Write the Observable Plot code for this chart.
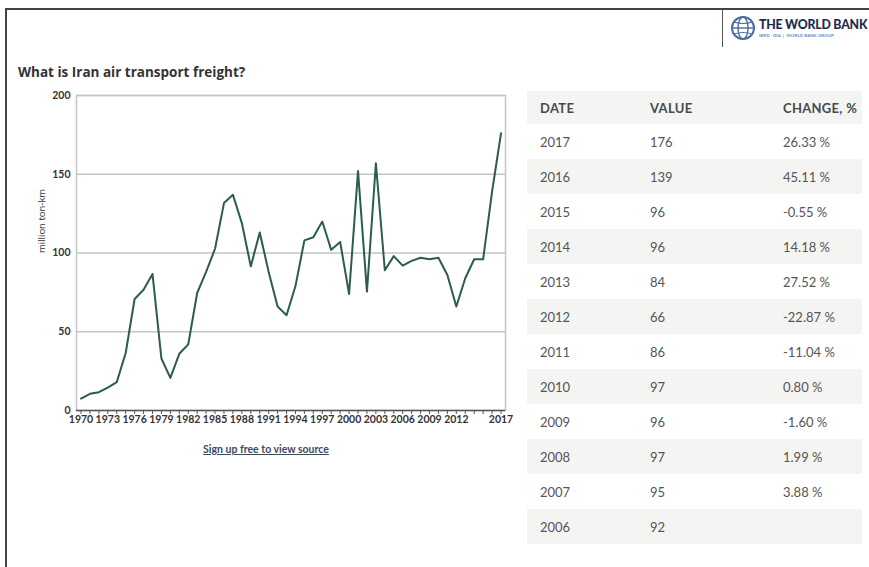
<!DOCTYPE html>
<html>
<head>
<meta charset="utf-8">
<script src="https://cdn.jsdelivr.net/npm/d3@7"></script>
<script src="https://cdn.jsdelivr.net/npm/@observablehq/plot@0.6"></script>
<style>
html,body{margin:0;padding:0;background:#fff;}
#root{position:relative;width:869px;height:567px;overflow:hidden;font-family:Lato,"Open Sans",sans-serif;background:#fff;}
#frameTop{position:absolute;left:5px;top:8px;width:719px;height:2px;background:#444;}
#frameLeft{position:absolute;left:5px;top:8px;width:2px;height:559px;background:#444;}
#logo{position:absolute;left:722px;top:8px;width:147px;height:37px;border-left:1.5px solid #555;border-top:2px solid #444;}
#logoTitle{position:absolute;left:36px;top:7px;font-family:Lato,sans-serif;font-weight:900;font-size:12.3px;color:#1d2c4c;white-space:nowrap;letter-spacing:-0.2px;}
#logoSub{position:absolute;left:36px;top:23px;font-size:4.5px;color:#5b8fc9;white-space:nowrap;font-weight:700;}
#title{position:absolute;left:18px;top:63px;font-family:"Open Sans",sans-serif;font-weight:700;font-size:13.5px;color:#333;white-space:nowrap;}
#chart{position:absolute;left:0;top:80px;}
#source{position:absolute;left:0;width:532px;text-align:center;top:443px;font-size:10.5px;font-weight:700;color:#3d4a5c;text-decoration:underline;}
#table{position:absolute;left:527px;top:91px;width:335px;}
.row{position:relative;height:35px;font-size:13px;color:#555;}
.row.head{height:33px;color:#4a4a4a;font-weight:700;letter-spacing:0.3px;}
.row.shade{background:#f4f4f2;}
.row span{position:absolute;top:50%;transform:translateY(-50%);white-space:nowrap;}
.c1{left:13px;}.c2{left:123px;}.c3{left:256px;}
</style>
</head>
<body>
<div id="root">
  <div id="frameTop"></div>
  <div id="frameLeft"></div>
  <div id="logo">
    <svg width="30" height="30" style="position:absolute;left:5px;top:3px" viewBox="0 0 30 30">
      <circle cx="15" cy="15" r="11" fill="none" stroke="#4a6d9c" stroke-width="2"/>
      <ellipse cx="15" cy="15" rx="5" ry="11" fill="none" stroke="#4a6d9c" stroke-width="1.4"/>
      <line x1="4" y1="15" x2="26" y2="15" stroke="#4a6d9c" stroke-width="1.4"/>
      <path d="M6 9 Q15 12 24 9 M6 21 Q15 18 24 21" fill="none" stroke="#4a6d9c" stroke-width="1.2"/>
    </svg>
    <div id="logoTitle">THE WORLD BANK</div>
    <div id="logoSub">IBRD · IDA &nbsp;|&nbsp; WORLD BANK GROUP</div>
  </div>
  <div id="title">What is Iran air transport freight?</div>
  <div id="chart"></div>
  <div id="source">Sign up free to view source</div>
  <div id="table"></div>
</div>
<script>
// ---- data ----
const years = [1970,1971,1972,1973,1974,1975,1976,1977,1978,1979,
               1980,1981,1982,1983,1984,1985,1986,1987,1988,1989,
               1990,1991,1992,1993,1994,1995,1996,1997,1998,1999,
               2000,2001,2002,2003,2004,2005,2006,2007,2008,2009,
               2010,2011,2012,2013,2014,2015,2016,2017];
const values = [7.6,10.6,11.6,14.5,18,36.5,70.8,76.7,86.7,33,
                20.7,36,42,74.6,88,102.7,131.7,137,119,91.5,
                113,88,66,60.5,79,108,110,120,102,107,
                74,152,75.5,157,89,98,92,95,97,96,
                97,86,66,84,96,96,139,176];
const yTicks = [0,50,100,150,200];
const xTickLabels = [1970,1973,1976,1979,1982,1985,1988,1991,1994,1997,2000,2003,2006,2009,2012,2017];
const yLabel = "million ton-km";

const tableHeaders = ["DATE","VALUE","CHANGE, %"];
const tableYears = [2017,2016,2015,2014,2013,2012,2011,2010,2009,2008,2007,2006];
const tableChanges = ["26.33 %","45.11 %","-0.55 %","14.18 %","27.52 %","-22.87 %","-11.04 %","0.80 %","-1.60 %","1.99 %","3.88 %",""];

const series = years.map((year, i) => ({year, value: values[i]}));

const chart = Plot.plot({
  width: 520,
  height: 360,
  marginLeft: 76,
  marginRight: 15,
  marginTop: 15,
  marginBottom: 30,
  x: {domain: [1970, 2017], insetLeft: 4.5, insetRight: 4.5},
  y: {domain: [0, 200]},
  style: {fontFamily: "Lato, sans-serif", background: "transparent", overflow: "visible"},
  marks: [
    Plot.ruleY(yTicks.filter(d => d > 0), {stroke: "#c4c4c4", strokeWidth: 1.5}),
    Plot.frame({stroke: "#c4c4c4", strokeWidth: 1.5}),
    Plot.axisY(yTicks, {tickSize: 0, tickPadding: 6, fontWeight: 700, fontSize: 10.5, fill: "#333", label: null, tickFormat: d => String(d)}),
    Plot.text([yLabel], {frameAnchor: "left", dx: -35, rotate: -90, fontSize: 9.5, fill: "#333", fontFamily: "Open Sans, sans-serif"}),
    Plot.axisX(years, {tickSize: 4, tickFormat: () => "", stroke: "#555", label: null}),
    Plot.axisX(xTickLabels, {tickSize: 0, tickPadding: 5, fontWeight: 700, fontSize: 10.5, fill: "#333", label: null, tickFormat: d => String(d)}),
    Plot.ruleY([0], {stroke: "#555", strokeWidth: 1.5}),
    Plot.lineY(series, {x: "year", y: "value", stroke: "#2c5b50", strokeWidth: 2})
  ]
});
document.getElementById("chart").appendChild(chart);

// ---- table ----
const tbl = document.getElementById("table");
const head = document.createElement("div");
head.className = "row head shade";
head.innerHTML = tableHeaders.map((h, i) => `<span class="c${i+1}">${h}</span>`).join("");
tbl.appendChild(head);
tableYears.forEach((y, i) => {
  const v = values[years.indexOf(y)];
  const r = document.createElement("div");
  r.className = "row" + (i % 2 === 1 ? " shade" : "");
  r.innerHTML = `<span class="c1">${y}</span><span class="c2">${Math.round(v)}</span><span class="c3">${tableChanges[i]}</span>`;
  tbl.appendChild(r);
});
</script>
</body>
</html>
